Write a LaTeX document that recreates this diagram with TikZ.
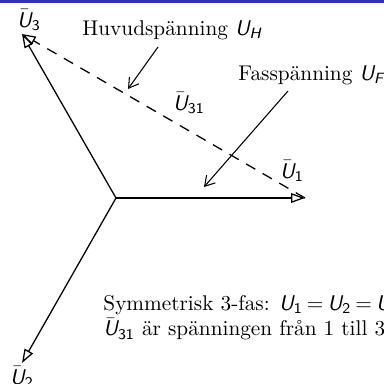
\documentclass[tikz,border=0pt]{standalone}
\usepackage{amsmath}
\usetikzlibrary{arrows.meta}
\definecolor{barblue}{RGB}{51,51,178}
\newcommand{\Uit}{\text{\sffamily\itshape U}}
\newcommand{\Ub}[1]{$\bar{\Uit}_{\text{\sffamily #1}}$}
\newcommand{\Us}[1]{$\Uit_{\text{\sffamily\itshape #1}}$}
\newcommand{\Um}[1]{\Uit_{\text{\sffamily #1}}}
\begin{document}
\begin{tikzpicture}[x=0.47pt,y=-0.47pt,
  phasor/.style={line width=0.6pt,-{Triangle[open,length=6.5pt,width=4.5pt]}},
  lineto/.style={line width=0.5pt,-{Straight Barb[length=4.5pt,width=5.5pt]}},
  lbl/.style={inner sep=0pt}]
\useasboundingbox (0,0) rectangle (384,384);
\clip (0,0) rectangle (384,384);
\fill[barblue] (0,0) rectangle (384,2.5);
\coordinate (O) at (116,198);
\coordinate (A1) at (305,198);
\coordinate (A2) at (22,363);
\coordinate (A3) at (22,34);
\draw[phasor] (O) -- (A1);
\draw[phasor] (O) -- (A2);
\draw[phasor] (O) -- (A3);
\draw[phasor,dash pattern=on 5pt off 4pt] (A1) -- (A3);
\node[lbl] (L3) at (29,20) {\Ub{3}};
\node[lbl] (L1) at (292,171) {\Ub{1}};
\node[lbl] (L2) at (22,377) {\Ub{2}};
\node[lbl] (L31) at (189,103) {\Ub{31}};
\node[lbl,anchor=base west] (H) at (82,35) {Huvudspänning \Us{H}};
\coordinate (H1) at (158,47);
\coordinate (H2) at (128,89);
\draw[lineto] (H1) -- (H2);
\node[lbl,anchor=base west] (F) at (238,80) {Fasspänning \Us{F}};
\coordinate (F1) at (288,91);
\coordinate (F2) at (204,187);
\draw[lineto] (F1) -- (F2);
\node[lbl,anchor=north west,align=left] (S) at (103,295)
  {Symmetrisk 3-fas: $\thickmuskip=3.5mu \Um{1} = \Um{2} = \Um{3}$\\ \Ub{31} är spänningen från 1 till 3};
\end{tikzpicture}
\end{document}
